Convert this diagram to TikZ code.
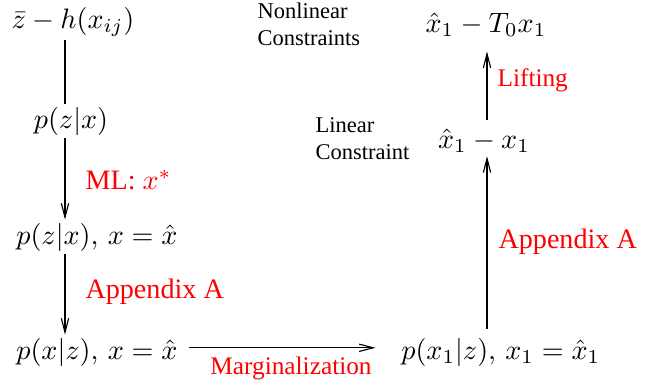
\documentclass[tikz,border=0pt]{standalone}
\usepackage[no-math]{fontspec}
\setmainfont{Liberation Serif}
\usetikzlibrary{positioning,arrows.meta}

\begin{document}
\begin{tikzpicture}[
    x=0.0125cm, y=-0.0125cm,
    >={Straight Barb[length=5pt,width=2.6pt]},
    expr/.style={inner sep=1pt},
    note/.style={font=\footnotesize, align=left, inner sep=0pt,
        anchor=west},
    redlbl/.style={text=red, anchor=west, inner sep=0pt},
    arr/.style={->, draw=black}
]
    \useasboundingbox (0,0) rectangle (660,390);

    % left column
    \node[expr] (zh) at (73,22) {$\bar z - h(x_{ij})$};
    \node[expr] (pzx) at (71,121) {$p(z|x)$};
    \node[expr, anchor=west] (pzxh) at (13,237) {$p(z|x),\, x=\hat x$};
    \node[expr, anchor=west] (pxz) at (13,352) {$p(x|z),\, x=\hat x$};

    % right column
    \node[expr, anchor=west] (px1) at (398,352) {$p(x_1|z),\, x_1=\hat x_1$};
    \node[expr] (lin) at (484,141) {$\hat x_1 - x_1$};
    \node[expr] (nonlin) at (486,25) {$\hat x_1 - T_0 x_1$};

    \node[note] (nonlinlbl) at (257,24) {Nonlinear\\Constraints};
    \node[note] (linlbl) at (315,139) {Linear\\Constraint};

    \node[redlbl] (ml) at (85,180) {ML: $x^*$};
    \node[redlbl] (appl) at (85,292) {Appendix A};
    \node[redlbl] (appr) at (498,242) {Appendix A};
    \node[redlbl, font=\small] (lift) at (497,80) {Lifting};
    \node[redlbl, font=\small, anchor=center] (marg) at (291,368)
        {Marginalization};

    \coordinate (lcol) at (65,0);
    \coordinate (rcol) at (487,0);

    \draw (zh.south -| lcol) -- (pzx.north -| lcol);
    \draw[arr] (pzx.south -| lcol) -- (pzxh.north -| lcol);
    \draw[arr] (pzxh.south -| lcol) -- (pxz.north -| lcol);
    \draw[arr, shorten <=3pt, shorten >=8pt] ([yshift=1.5pt]pxz.east) -- ([yshift=1.5pt]px1.west);
    \draw[arr, shorten <=2pt] (px1.north -| rcol) -- (lin.south -| rcol);
    \draw[arr, shorten <=2pt, shorten >=4pt] (lin.north -| rcol) -- (nonlin.south -| rcol);
\end{tikzpicture}
\end{document}
